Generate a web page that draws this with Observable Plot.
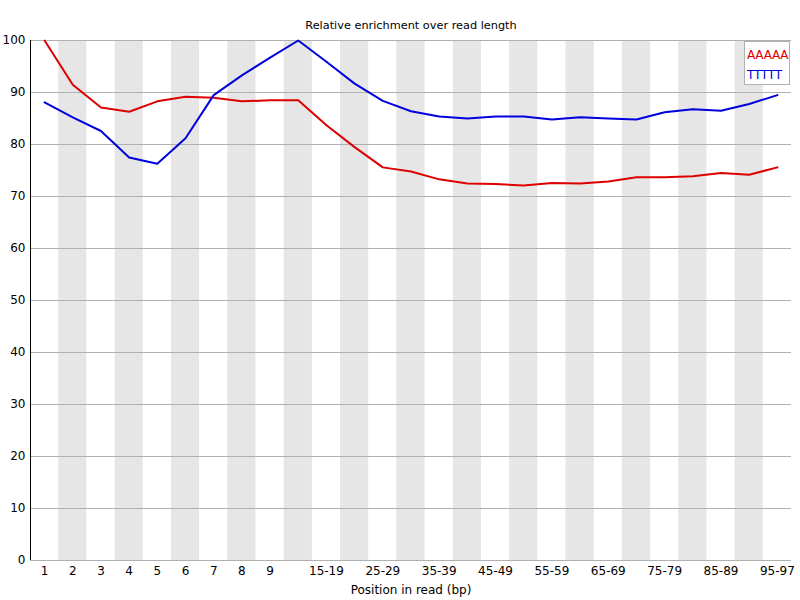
<!DOCTYPE html>
<html>
<head>
<meta charset="utf-8">
<script src="https://cdn.jsdelivr.net/npm/d3@7"></script>
<script src="https://cdn.jsdelivr.net/npm/@observablehq/plot@0.6"></script>
<style>
  body { margin: 0; background: white; }
  #wrap { position: relative; width: 800px; height: 600px; }
  #legend { position: absolute; left: 744px; top: 41px; width: 44px; height: 39px;
    border: 1px solid #b0b0b0; background: white; font-family: "DejaVu Sans", sans-serif;
    font-size: 12px; line-height: 20px; padding-top: 3px; box-sizing: content-box; text-align: left; }
  #legend div { padding-left: 2px; letter-spacing: -0.2px; }
</style>
</head>
<body>
<div id="wrap"></div>
<script>
const categories = ["1","2","3","4","5","6","7","8","9","10-14","15-19","20-24","25-29","30-34","35-39","40-44","45-49","50-54","55-59","60-64","65-69","70-74","75-79","80-84","85-89","90-94","95-97"];
const aaaaa = [100, 91.5, 87.1, 86.3, 88.3, 89.2, 89.0, 88.3, 88.5, 88.5, 83.7, 79.5, 75.6, 74.8, 73.3, 72.5, 72.4, 72.1, 72.6, 72.5, 72.9, 73.7, 73.7, 73.9, 74.5, 74.2, 75.6];
const ttttt = [88.1, 85.2, 82.6, 77.5, 76.3, 81.2, 89.5, 93.3, 96.7, 100, 95.9, 91.7, 88.4, 86.4, 85.4, 85.0, 85.4, 85.4, 84.8, 85.25, 85.0, 84.8, 86.2, 86.8, 86.5, 87.8, 89.5];
const seriesNames = ["AAAAA", "TTTTT"];
const seriesColors = ["#dc0000", "#0000dc"];
const yTicks = [0,10,20,30,40,50,60,70,80,90,100];
const xTickLabels = ["1","2","3","4","5","6","7","8","9","15-19","25-29","35-39","45-49","55-59","65-69","75-79","85-89","95-97"];

const idx = categories.map((c, i) => i);
const rows = [];
seriesNames.forEach((s, k) => {
  const vals = k === 0 ? aaaaa : ttttt;
  vals.forEach((v, i) => rows.push({series: s, i, value: v}));
});
const stripes = idx.filter(i => i % 2 === 1);
const xTicks = xTickLabels.map(l => categories.indexOf(l));

const chart = Plot.plot({
  width: 800,
  height: 600,
  marginTop: 40,
  marginBottom: 40,
  marginLeft: 30,
  marginRight: 9,
  style: {fontFamily: "DejaVu Sans, sans-serif", fontSize: "12px", color: "black", background: "white"},
  x: {type: "linear", domain: [-0.5, categories.length - 0.5], ticks: xTicks, tickFormat: i => categories[i], tickSize: 0, tickPadding: 6, label: null},
  y: {domain: [0, 100], ticks: yTicks, tickSize: 0, tickPadding: 5, label: null},
  color: {domain: seriesNames, range: seriesColors},
  marks: [
    Plot.rect(stripes, {x1: d => d - 0.5, x2: d => d + 0.5, y1: 0, y2: 100, fill: "#e6e6e6"}),
    Plot.ruleY(yTicks, {stroke: "#b0b0b0", strokeWidth: 1}),
    Plot.ruleX([-0.5], {stroke: "black", strokeWidth: 1}),
    Plot.line(rows, {x: "i", y: "value", z: "series", stroke: "series", strokeWidth: 2}),
    Plot.text(["Relative enrichment over read length"], {frameAnchor: "top", lineAnchor: "middle", dy: -15, fontSize: 11.3, text: d => d}),
    Plot.text(["Position in read (bp)"], {frameAnchor: "bottom", lineAnchor: "middle", dy: 30, fontSize: 12, text: d => d})
  ]
});
document.getElementById("wrap").appendChild(chart);
const leg = document.createElement("div");
leg.id = "legend";
seriesNames.forEach((s, k) => {
  const d = document.createElement("div");
  d.textContent = s;
  d.style.color = seriesColors[k];
  leg.appendChild(d);
});
document.getElementById("wrap").appendChild(leg);
</script>
</body>
</html>
